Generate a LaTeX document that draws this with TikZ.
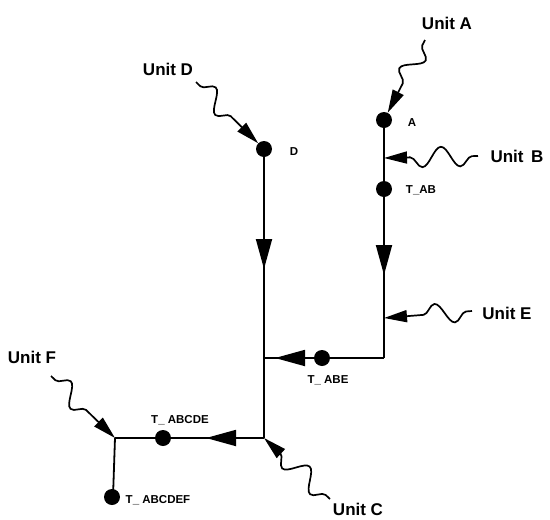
\documentclass[tikz,border=0pt]{standalone}
\usepackage{fontspec}
\setmainfont{Liberation Sans}
\usetikzlibrary{arrows.meta,decorations.pathmorphing,decorations.markings}
\begin{document}
\begin{tikzpicture}[x=1pt,y=-1pt,
  dot/.style={circle,fill=black,inner sep=0pt,minimum size=16pt},
  unit/.style={font=\fontsize{17}{20}\selectfont\bfseries,inner sep=0pt},
  lbl/.style={font=\fontsize{11.5}{13}\selectfont\bfseries,inner sep=0pt},
  line/.style={line width=1.8pt},
  midarrow/.style={postaction={decorate,decoration={markings,
      mark=at position #1 with {\arrow{Triangle[length=30pt,width=16pt]}}}}},
  wavy/.style={line width=1.7pt,-{Triangle[length=23pt,width=12pt]},
      decorate,decoration={snake,segment length=38pt,amplitude=10pt,
      pre length=6pt,post length=22pt}}]
\fill[white] (0,0) rectangle (550,520);
\useasboundingbox (0,0) rectangle (550,520);
% junctions
\coordinate (cE) at (384,358);
\coordinate (J1) at (264,358);
\coordinate (J2) at (264,438);
\coordinate (cF) at (115,438);
\coordinate (tB) at (384,158);
\coordinate (tE) at (384,318);
% wave starts
\coordinate (sA) at (425,40);
\coordinate (sB) at (478,156);
\coordinate (sE) at (472,311);
\coordinate (sD) at (196,82);
\coordinate (sC) at (330,499);
\coordinate (sF) at (51,376);
% lines
\draw[line,midarrow=155pt] (384,120) -- (cE);
\draw[line,midarrow=109pt] (cE) -- (J1);
\draw[line,midarrow=120pt] (264,149) -- (J2);
\draw[line,midarrow=58pt] (J2) -- (cF);
\draw[line] (cF) -- (113,497);
% dots
\node[dot] (A) at (384,120) {};
\node[dot] (TAB) at (384,189) {};
\node[dot] (D) at (264,149) {};
\node[dot] (TABE) at (322,358) {};
\node[dot] (TABCDE) at (163,438) {};
\node[dot] (TABCDEF) at (112,497) {};
% dot labels
\node[lbl] (lA) at (412,123) {A};
\node[lbl] (lTAB) at (421,190) {T\_AB};
\node[lbl] (lD) at (294,152) {D};
\node[lbl] (lTABE) at (328,380) {T\_ ABE};
\node[lbl] (lTABCDE) at (180,420) {T\_ ABCDE};
\node[lbl] (lTABCDEF) at (158,500) {T\_ ABCDEF};
% unit labels
\node[unit] (uA) at (447,23) {Unit A};
\node[unit] (uB) at (517,156) {Unit\, B};
\node[unit] (uE) at (507,313) {Unit E};
\node[unit] (uD) at (168,69) {Unit D};
\node[unit] (uC) at (358,509) {Unit C};
\node[unit] (uF) at (32,357) {Unit F};
% wavy arrows
\draw[wavy] (sA) -- (A);
\draw[wavy] (sB) -- (tB);
\draw[wavy] (sE) -- (tE);
\draw[wavy] (sD) -- (D);
\draw[wavy] (sC) -- (J2);
\draw[wavy] (sF) -- (cF);
\end{tikzpicture}
\end{document}
